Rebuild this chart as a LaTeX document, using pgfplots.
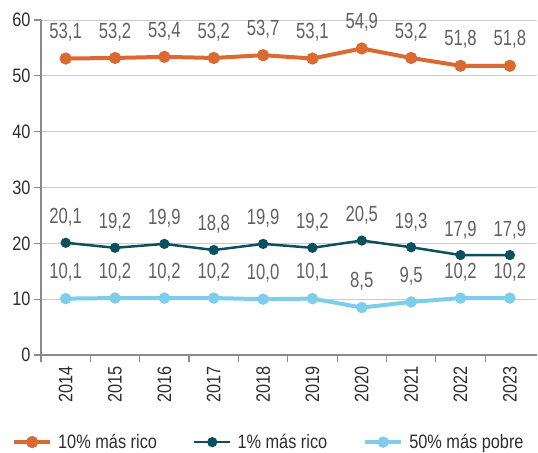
\documentclass[border=0pt]{standalone}
\usepackage{pgfplots}
\pgfplotsset{compat=1.18}
\usepackage{fontspec}
\setmainfont{Liberation Sans}
\newfontfamily\lblfont{Liberation Sans}[FakeStretch=0.76]
\newfontfamily\legfont{Liberation Sans}[FakeStretch=0.84]
\definecolor{cOr}{HTML}{DA6932}
\definecolor{cTe}{HTML}{0B505E}
\definecolor{cLb}{HTML}{7DCEEA}
\definecolor{cAx}{HTML}{8A8A8A}
\definecolor{cGr}{HTML}{CCCCCC}
\begin{document}
\begin{tikzpicture}
\begin{axis}[
  scale only axis, width=496bp, height=335bp,
  xmin=-0.5, xmax=9.55, ymin=0, ymax=60,
  clip=false,
  axis lines*=left,
  axis line style={cAx, line width=1.2bp},
  ytick={0,10,...,60},
  ymajorgrids, grid style={cGr, line width=0.9bp},
  xtick={0,...,9},
  xticklabels={2014,2015,2016,2017,2018,2019,2020,2021,2022,2023},
  minor xtick={-0.5,0.5,...,8.5},
  tick align=outside,
  major tick length=7bp, minor tick length=7bp,
  major x tick style={draw=none},
  tick style={cAx, line width=1.2bp},
  minor x tick style={cAx, line width=1.2bp},
  xticklabel style={rotate=90, anchor=east, xshift=-1bp},
  yticklabel style={xshift=0bp},
  tick label style={font=\legfont\fontsize{19.5}{22}\selectfont, color=black!82},
  /pgf/number format/assume math mode=true,
  nodes near coords,
  nodes near coords style={font=\lblfont\fontsize{22}{25}\selectfont, color=black!62, anchor=south, inner sep=0pt, yshift=15bp,
    /pgf/number format/fixed, /pgf/number format/fixed zerofill, /pgf/number format/precision=1, /pgf/number format/use comma},
  legend columns=3,
  legend style={draw=none, fill=none, inner sep=0pt, at={(axis description cs:-0.0585,-0.26)}, anchor=west,
    font=\legfont\fontsize{19.5}{22}\selectfont, text=black!82,
    /tikz/every even column/.append style={column sep=34bp}},
  legend image code/.code={\draw[mark repeat=2,mark phase=2,#1] plot coordinates {(0bp,0bp)(18bp,0bp)(36bp,0bp)};\path (40bp,0bp);},
]
\path (rel axis cs:0,0) ++(-41bp,-97bp) coordinate (bbA);
\path (rel axis cs:1,1) ++(1bp,20bp) coordinate (bbB);
\path (bbA) rectangle (bbB);
\addplot[color=cOr, line width=4bp, mark=*, mark size=4bp, mark options={solid}]
  coordinates {(0,53.1)(1,53.2)(2,53.4)(3,53.2)(4,53.7)(5,53.1)(6,54.9)(7,53.2)(8,51.8)(9,51.8)};
\addlegendentry{10\% más rico}
\addplot[color=cTe, line width=2.5bp, mark=*, mark size=3.8bp, mark options={solid}]
  coordinates {(0,20.1)(1,19.2)(2,19.9)(3,18.8)(4,19.9)(5,19.2)(6,20.5)(7,19.3)(8,17.9)(9,17.9)};
\addlegendentry{1\% más rico}
\addplot[color=cLb, line width=4bp, mark=*, mark size=3.6bp, mark options={solid}]
  coordinates {(0,10.1)(1,10.2)(2,10.2)(3,10.2)(4,10.0)(5,10.1)(6,8.5)(7,9.5)(8,10.2)(9,10.2)};
\addlegendentry{50\% más pobre}
\end{axis}
\end{tikzpicture}
\end{document}
